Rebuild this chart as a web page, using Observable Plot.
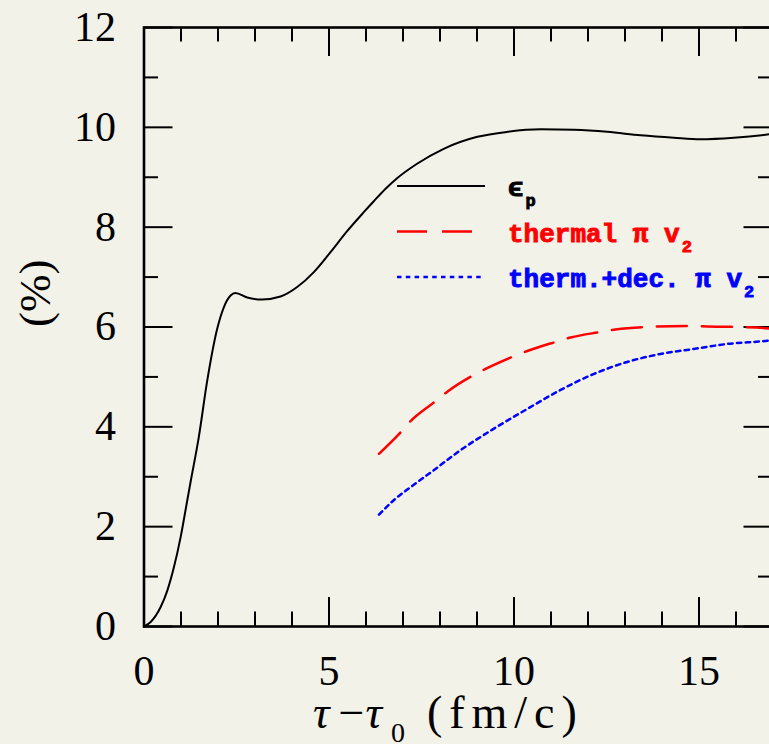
<!DOCTYPE html>
<html><head><meta charset="utf-8">
<script src="https://cdn.jsdelivr.net/npm/d3@7"></script>
<script src="https://cdn.jsdelivr.net/npm/@observablehq/plot@0.6"></script>
<style>html,body{margin:0;padding:0;overflow:hidden;background:#f2f2e8;}</style>
</head><body><div id="chart"></div>
<script>
// ε_p (spatial eccentricity) vs τ−τ0
const epsTau = [0, 0.18, 0.45, 0.63, 0.81, 0.99, 1.17, 1.26, 1.48, 1.71, 1.98, 2.16, 2.34, 2.47, 2.79, 3.19, 3.69, 4.14, 4.59, 5.04, 5.49, 5.94, 6.21, 6.53, 6.84, 7.38, 8.10, 9.01, 9.82, 10.72, 11.62, 12.52, 13.42, 14.32, 15.04, 15.94, 16.9, 17.0];
const epsVal = [0, 0.09, 0.39, 0.72, 1.19, 1.79, 2.53, 2.90, 3.79, 4.93, 5.97, 6.40, 6.63, 6.68, 6.59, 6.55, 6.61, 6.80, 7.10, 7.50, 7.92, 8.30, 8.52, 8.77, 8.98, 9.27, 9.57, 9.81, 9.91, 9.96, 9.95, 9.91, 9.84, 9.79, 9.76, 9.79, 9.86, 9.87];
// thermal pion v2
const thTau = [6.35, 6.91, 7.20, 7.82, 8.19, 8.82, 9.23, 9.95, 10.36, 11.12, 11.53, 12.34, 12.74, 13.55, 14.77, 15.22, 16.03, 16.9, 17.0];
const thVal = [3.46, 3.87, 4.11, 4.48, 4.70, 5.00, 5.16, 5.40, 5.52, 5.70, 5.79, 5.90, 5.95, 6.00, 6.02, 6.01, 6.00, 5.97, 5.96];
// thermal + decay pion v2
const tdTau = [6.35, 6.75, 7.20, 7.83, 8.55, 9.45, 10.36, 11.26, 12.16, 13.06, 13.96, 14.86, 15.76, 16.9, 17.0];
const tdVal = [2.24, 2.53, 2.79, 3.13, 3.53, 3.96, 4.36, 4.74, 5.06, 5.30, 5.46, 5.56, 5.66, 5.73, 5.74];

const xMajor = [0, 5, 10, 15];
const xMinor = [1, 2, 3, 4, 6, 7, 8, 9, 11, 12, 13, 14, 16, 17];
const yMajor = [0, 2, 4, 6, 8, 10, 12];
const yMinor = [1, 3, 5, 7, 9, 11];
const xLabels = ["0", "5", "10", "15"];
const yLabels = ["0", "2", "4", "6", "8", "10", "12"];

const legendItems = [
  {name: "ϵ", sub: "p", color: "black", dash: null, width: 2.2},
  {name: "thermal π v", sub: "2", color: "#ff0000", dash: "30,15", width: 2.5},
  {name: "therm.+dec. π v", sub: "2", color: "#0000ff", dash: "4.5,4.3", width: 2.5}
];

const W = 769, H = 744;
const mL = 143.5, mR = -3.5, mT = 27, mB = 118;
const innerW = W - mL - mR, innerH = H - mT - mB;
const major = 29, minor = 14.5;
const serif = "'Liberation Serif', 'DejaVu Serif', serif";
const mono = "'Liberation Mono', 'DejaVu Sans Mono', monospace";

const toRows = (t, v) => t.map((d, i) => ({t: d, v: v[i]}));

const decor = () => {
  const g = d3.create("svg:g").attr("text-anchor", "start");
  // legend
  legendItems.forEach((it, i) => {
    const y = 186 + i * 45.5;
    const ln = g.append("line").attr("x1", 397).attr("x2", 485).attr("y1", y).attr("y2", y)
      .attr("stroke", it.color).attr("stroke-width", it.width);
    if (it.dash) ln.attr("stroke-dasharray", it.dash);
    const tx = g.append("text").attr("x", 508).attr("y", y + 10).attr("text-anchor", "start")
      .attr("fill", it.color).attr("stroke", it.color).attr("stroke-width", 0.9)
      .attr("font-family", mono).attr("font-weight", "bold").attr("font-size", 26);
    tx.append("tspan").text(it.name);
    tx.append("tspan").attr("dy", 10).attr("dx", 2).attr("font-size", 17).text(it.sub);
  });
  // x axis title
  const xt = g.append("text").attr("x", 313).attr("y", 728).attr("text-anchor", "start")
    .attr("font-family", serif).attr("font-size", 46).attr("fill", "black");
  xt.append("tspan").attr("font-style", "italic").text("τ");
  xt.append("tspan").attr("dx", 9).text("−");
  xt.append("tspan").attr("dx", 1).attr("font-style", "italic").text("τ");
  xt.append("tspan").attr("dy", 14).attr("dx", 9).attr("font-size", 28).text("0");
  xt.append("tspan").attr("dy", -14).attr("dx", 22).attr("letter-spacing", 7).text("(fm/c)");
  return g.node();
};

const chart = Plot.plot({
  width: W, height: H,
  marginLeft: mL, marginRight: mR, marginTop: mT, marginBottom: mB,
  style: {background: "#f2f2e8", overflow: "hidden"},
  x: {domain: [0, 17], axis: null},
  y: {domain: [0, 12], axis: null},
  marks: [
    // ticks (inside the frame)
    Plot.tickX(xMajor, {x: d => d, insetTop: innerH - major, stroke: "black", strokeWidth: 2}),
    Plot.tickX(xMinor, {x: d => d, insetTop: innerH - minor, stroke: "black", strokeWidth: 2}),
    Plot.tickX(xMajor, {x: d => d, insetBottom: innerH - major, stroke: "black", strokeWidth: 2}),
    Plot.tickX(xMinor, {x: d => d, insetBottom: innerH - minor, stroke: "black", strokeWidth: 2}),
    Plot.tickY(yMajor, {y: d => d, insetRight: innerW - major, stroke: "black", strokeWidth: 2}),
    Plot.tickY(yMinor, {y: d => d, insetRight: innerW - minor, stroke: "black", strokeWidth: 2}),
    Plot.tickY(yMajor, {y: d => d, insetLeft: innerW - major, stroke: "black", strokeWidth: 2}),
    Plot.tickY(yMinor, {y: d => d, insetLeft: innerW - minor, stroke: "black", strokeWidth: 2}),
    Plot.frame({stroke: "black", strokeWidth: 2.6}),
    // tick labels
    Plot.axisX(xMajor, {tickSize: 0, tickPadding: 29, fontSize: 42, fontFamily: serif, fill: "black",
      label: null, tickFormat: (d, i) => xLabels[i]}),
    Plot.axisY(yMajor, {tickSize: 0, tickPadding: 28, fontSize: 42, fontFamily: serif, fill: "black",
      label: null, tickFormat: (d, i) => yLabels[i]}),
    Plot.text(["(%)"], {frameAnchor: "left", rotate: -90, dx: -108, fontSize: 45, fontFamily: serif, fill: "black"}),
    // curves
    Plot.line(toRows(epsTau, epsVal), {x: "t", y: "v", stroke: "black", strokeWidth: 2, curve: "monotone-x"}),
    Plot.line(toRows(thTau, thVal), {x: "t", y: "v", stroke: "#ff0000", strokeWidth: 2.5, strokeDasharray: "30,15", curve: "monotone-x"}),
    Plot.line(toRows(tdTau, tdVal), {x: "t", y: "v", stroke: "#0000ff", strokeWidth: 2.5, strokeDasharray: "4.5,4.3", curve: "monotone-x"}),
    decor
  ]
});
document.getElementById("chart").appendChild(chart);
</script>
</body></html>
